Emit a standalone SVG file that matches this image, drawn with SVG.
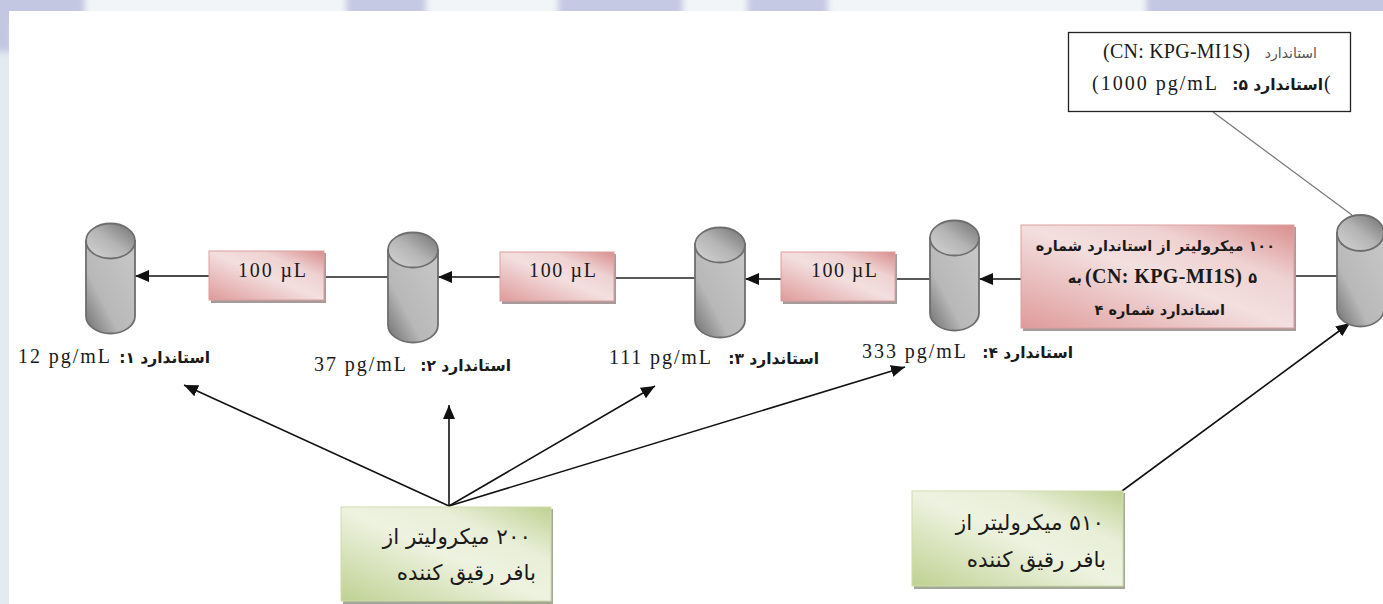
<svg xmlns="http://www.w3.org/2000/svg" width="1383" height="604" viewBox="0 0 1383 604">
<style>
.lat{font-family:"Liberation Serif","DejaVu Serif",serif;font-size:20px;fill:#1a1a1a}
.latb{font-family:"Liberation Serif","DejaVu Serif",serif;font-size:20px;font-weight:bold;fill:#1a1a1a}
.fab{font-family:"DejaVu Sans",sans-serif;font-size:14.500px;font-weight:bold;fill:#1a1a1a;direction:rtl;text-anchor:start}
.lab{font-size:15.500px}
.far{font-family:"DejaVu Sans",sans-serif;font-size:21.500px;fill:#1a1a1a;direction:rtl;text-anchor:start}
.ar{fill:none;stroke:#111;stroke-width:1.6;marker-end:url(#ah)}
.ln{fill:none;stroke:#222;stroke-width:1.6}
.body{fill:url(#cb);stroke:#6e6e6e;stroke-width:1.800}
.cap{fill:url(#ct);stroke:#6e6e6e;stroke-width:1.800}
.pk{fill:url(#pk);stroke:#dba0a0;stroke-width:1}
.gr{fill:url(#gr);stroke:#cfdcae;stroke-width:1}
.ps{fill:#a79a9a}
.gs{fill:#a3a895}
</style>
<defs>
<linearGradient id="cb" x1="0" y1="1" x2="1" y2="0"><stop offset="0" stop-color="#6e6e6e"/><stop offset=".35" stop-color="#b8b8b8"/><stop offset="1" stop-color="#c8c8c8"/></linearGradient>
<linearGradient id="ct" x1="0" y1="1" x2="1" y2="0"><stop offset="0" stop-color="#d6d6d6"/><stop offset=".5" stop-color="#b4b4b4"/><stop offset="1" stop-color="#6f6f6f"/></linearGradient>
<linearGradient id="pk" x1="0" y1="1" x2="1" y2="0"><stop offset="0" stop-color="#df9a9a"/><stop offset=".5" stop-color="#f3dfdf"/><stop offset=".72" stop-color="#efd2d2"/><stop offset="1" stop-color="#d98e8e"/></linearGradient>
<linearGradient id="gr" x1="0" y1="1" x2="1" y2="0"><stop offset="0" stop-color="#bfd192"/><stop offset=".5" stop-color="#eef3e1"/><stop offset=".72" stop-color="#e8eed7"/><stop offset="1" stop-color="#bfd192"/></linearGradient>
<marker id="ah" markerUnits="userSpaceOnUse" markerWidth="15" markerHeight="13" refX="14" refY="6" orient="auto"><path d="M0 0L14 6L0 12z" fill="#111"/></marker>
<filter id="b" x="-5%" y="-50%" width="110%" height="200%"><feGaussianBlur stdDeviation="3"/></filter>
</defs>
<g id="background">
<rect width="1383" height="604" fill="#e3ebf1"/>
<g filter="url(#b)">
<rect x="-10" y="-10" width="1400" height="30" fill="#f1f5f8"/>
<rect x="-10" y="-10" width="95" height="30" fill="#c4c7e2"/>
<rect x="-10" y="-10" width="22" height="62" fill="#c4c7e2"/>
<rect x="346" y="-10" width="80" height="30" fill="#c6c9e3"/>
<rect x="558" y="-10" width="125" height="30" fill="#c6c9e3"/>
<rect x="747" y="-10" width="81" height="30" fill="#c6c9e3"/>
<rect x="1146" y="-10" width="250" height="30" fill="#c4c7e2"/>
</g>
<rect x="9" y="11" width="1374" height="593" fill="#fff"/>
</g>
<g id="connectors">
<path class="ln" d="M1213 112L1352 215" style="stroke:#777;stroke-width:1.2"/>
<path class="ln" d="M1295 276H1337"/>
<path class="ar" d="M1021 279H979"/>
<path class="ln" d="M896 279H930"/>
<path class="ar" d="M781 279H745"/>
<path class="ln" d="M615 278H695"/>
<path class="ar" d="M500 277H438"/>
<path class="ln" d="M325 277H388"/>
<path class="ar" d="M209 276H135"/>
<path class="ar" d="M449 506L184 385"/>
<path class="ar" d="M449 506V405"/>
<path class="ar" d="M449 506L655 386"/>
<path class="ar" d="M449 506L905 367"/>
<path class="ar" d="M1122 491L1350 323"/>
</g>
<g id="cyl5"><path class="body" d="M1337 233V309A23.500 17.500 0 0 0 1384 309V233z"/><ellipse class="cap" cx="1360.500" cy="233" rx="23.500" ry="18"/></g>
<g id="cyl4"><path class="body" d="M930 238V313A24.500 17.500 0 0 0 979 313V238z"/><ellipse class="cap" cx="954.500" cy="238" rx="24.500" ry="17.500"/></g>
<g id="cyl3"><path class="body" d="M695 244V320A25 17.500 0 0 0 745 320V244z"/><ellipse class="cap" cx="720" cy="245" rx="25" ry="17.500"/></g>
<g id="cyl2"><path class="body" d="M388 250V325A25 17.500 0 0 0 438 325V250z"/><ellipse class="cap" cx="413" cy="250" rx="25" ry="17.500"/></g>
<g id="cyl1"><path class="body" d="M86 241V316A24.500 17.500 0 0 0 135 316V241z"/><ellipse class="cap" cx="110.500" cy="241" rx="24.500" ry="17.500"/></g>
<g id="box1"><rect class="ps" x="211" y="253" width="115" height="50"/><rect class="pk" x="209" y="251" width="115" height="49"/><text class="lat" x="238" y="277" textLength="68" lengthAdjust="spacing">100 µL</text></g>
<g id="box2"><rect class="ps" x="502" y="254" width="114" height="50"/><rect class="pk" x="500" y="252" width="114" height="49"/><text class="lat" x="529" y="277" textLength="67" lengthAdjust="spacing">100 µL</text></g>
<g id="box3"><rect class="ps" x="783" y="254" width="114" height="50"/><rect class="pk" x="781" y="252" width="114" height="49"/><text class="lat" x="811" y="277" textLength="66" lengthAdjust="spacing">100 µL</text></g>
<g id="box4"><rect class="ps" x="1023" y="227" width="273" height="104"/><rect class="pk" x="1021" y="225" width="273" height="103"/>
<text class="fab" x="1275" y="251">۱۰۰ میکرولیتر از استاندارد شماره</text>
<text class="fab" x="1257" y="283">۵</text>
<text class="latb" x="1085" y="283" textLength="157" lengthAdjust="spacing">(CN: KPG-MI1S)</text>
<text class="fab" x="1082" y="283">به</text>
<text class="fab" x="1225" y="315">استاندارد شماره ۴</text></g>
<g id="source"><rect x="1068.500" y="32.500" width="282" height="79" fill="#fff" stroke="#222" stroke-width="1.300"/>
<text class="lat" x="1103" y="58" textLength="147" lengthAdjust="spacing">(CN: KPG-MI1S)</text>
<text class="fab" x="1317" y="58" style="font-weight:normal;font-size:14px;fill:#555">استاندارد</text>
<text class="lat" x="1092" y="90" textLength="125" lengthAdjust="spacing">(1000 pg/mL</text>
<text class="fab lab" x="1323" y="90">استاندارد ۵:</text>
<text class="lat" x="1324" y="90">(</text></g>
<g id="label1"><text class="lat" x="18" y="363" textLength="92" lengthAdjust="spacing">12 pg/mL</text><text class="fab lab" x="210" y="363">استاندارد ۱:</text></g>
<g id="label2"><text class="lat" x="314" y="371" textLength="92" lengthAdjust="spacing">37 pg/mL</text><text class="fab lab" x="511" y="371">استاندارد ۲:</text></g>
<g id="label3"><text class="lat" x="609" y="364" textLength="102" lengthAdjust="spacing">111 pg/mL</text><text class="fab lab" x="819" y="364">استاندارد ۳:</text></g>
<g id="label4"><text class="lat" x="862" y="358" textLength="104" lengthAdjust="spacing">333 pg/mL</text><text class="fab lab" x="1073" y="358">استاندارد ۴:</text></g>
<g id="buffer1"><rect class="gs" x="343" y="509" width="210" height="95"/><rect class="gr" x="341" y="507" width="210" height="94"/>
<text class="far" x="531" y="544">۲۰۰ میکرولیتر از</text><text class="far" x="536" y="580">بافر رقیق کننده</text></g>
<g id="buffer2"><rect class="gs" x="914" y="493" width="211" height="96"/><rect class="gr" x="912" y="491" width="211" height="95"/>
<text class="far" x="1104" y="530">۵۱۰ میکرولیتر از</text><text class="far" x="1106" y="567">بافر رقیق کننده</text></g>
</svg>
